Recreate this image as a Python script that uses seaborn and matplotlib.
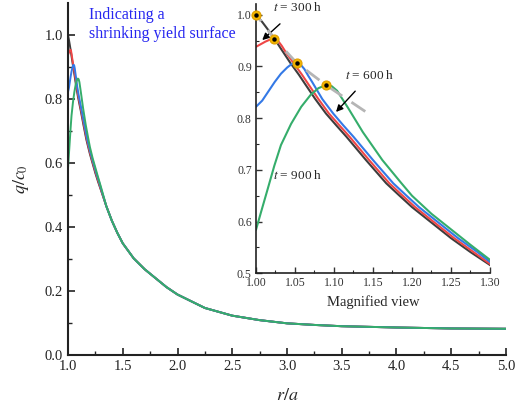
import matplotlib
matplotlib.use("Agg")
import matplotlib.pyplot as plt
import seaborn as sns
import pandas as pd

# ---- data ----
black_r = [1.0, 1.008, 1.016, 1.0235, 1.033, 1.044, 1.055, 1.063, 1.076, 1.0897, 1.103, 1.116, 1.141, 1.167, 1.183, 1.2, 1.25, 1.275, 1.3]
black_q = [1.0, 0.986, 0.970, 0.954, 0.932, 0.907, 0.884, 0.866, 0.837, 0.809, 0.786, 0.764, 0.719, 0.674, 0.6515, 0.628, 0.568, 0.541, 0.516]

red_r = [1.0, 1.006, 1.012, 1.018, 1.0235, 1.028, 1.033, 1.038, 1.048, 1.059, 1.067, 1.08, 1.0935, 1.107, 1.12, 1.145, 1.171, 1.187, 1.204, 1.254, 1.279, 1.3]
red_q = [0.938, 0.943, 0.948, 0.952, 0.954, 0.950, 0.940, 0.928, 0.907, 0.884, 0.866, 0.837, 0.809, 0.786, 0.764, 0.719, 0.674, 0.6515, 0.628, 0.568, 0.541, 0.518]

blue_r = [1.0, 1.008, 1.016, 1.024, 1.032, 1.04, 1.046, 1.052, 1.057, 1.062, 1.067, 1.072, 1.085, 1.099, 1.112, 1.125, 1.15, 1.176, 1.192, 1.209, 1.259, 1.284, 1.3]
blue_q = [0.822, 0.834, 0.852, 0.870, 0.886, 0.898, 0.905, 0.907, 0.904, 0.895, 0.882, 0.870, 0.837, 0.809, 0.786, 0.764, 0.719, 0.674, 0.6515, 0.628, 0.568, 0.541, 0.522]

green_r = [1.0, 1.0064, 1.015, 1.0235, 1.032, 1.045, 1.058, 1.07, 1.08, 1.0897, 1.097, 1.104, 1.118, 1.137, 1.162, 1.186, 1.2, 1.225, 1.25, 1.275, 1.3]
green_q = [0.584, 0.618, 0.663, 0.708, 0.748, 0.789, 0.822, 0.845, 0.858, 0.864, 0.862, 0.853, 0.820, 0.773, 0.719, 0.675, 0.650, 0.615, 0.585, 0.555, 0.526]

tail_r = [1.35, 1.4, 1.45, 1.5, 1.6, 1.7, 1.8, 1.9, 2.0, 2.25, 2.5, 2.75, 3.0, 3.25, 3.5, 4.0, 4.5, 5.0]
tail_q = [0.465, 0.420, 0.382, 0.349, 0.302, 0.268, 0.240, 0.212, 0.189, 0.147, 0.123, 0.109, 0.099, 0.094, 0.090, 0.086, 0.083, 0.082]

yield_r = [0.996, 1.0, 1.0235, 1.052, 1.0897, 1.144]
yield_q = [1.015, 1.0, 0.954, 0.907, 0.864, 0.809]

peak_r = [1.0, 1.0235, 1.052, 1.0897]
peak_q = [1.0, 0.954, 0.907, 0.864]

series_names = ["black", "red", "blue", "green"]
colors = {"black": "#3d3d3d", "red": "#ef4646", "blue": "#3479e6", "green": "#35ad6b"}

frames = []
for name, rr, qq in [("black", black_r, black_q), ("red", red_r, red_q),
                     ("blue", blue_r, blue_q), ("green", green_r, green_q)]:
    frames.append(pd.DataFrame({"r": rr + tail_r, "q": qq + tail_q, "s": name}))
df = pd.concat(frames, ignore_index=True)

sns.set_style("ticks")
plt.rcParams["font.family"] = ["Liberation Serif", "DejaVu Serif"]
plt.rcParams["mathtext.fontset"] = "stix"
plt.rcParams["lines.solid_joinstyle"] = "round"
plt.rcParams["lines.solid_capstyle"] = "round"

fig = plt.figure(figsize=(5.16, 4.09), dpi=100)
ax = fig.add_axes([0.1318, 0.132, 0.8488, 0.8606])
axin = fig.add_axes([0.4961, 0.3318, 0.4535, 0.6574])


def draw(a, lw):
    for name in series_names:
        sub = df[df["s"] == name]
        sns.lineplot(data=sub, x="r", y="q", ax=a, color=colors[name], lw=lw,
                     sort=False, estimator=None, legend=False)


# main axes
draw(ax, 1.4)
ax.set_xlim(1.0, 5.0)
ax.set_ylim(0.0, 1.1)
ax.set_xticks([1.0, 1.5, 2.0, 2.5, 3.0, 3.5, 4.0, 4.5, 5.0])
ax.set_xticks([1.25, 1.75, 2.25, 2.75, 3.25, 3.75, 4.25, 4.75], minor=True)
ax.set_yticks([0.0, 0.2, 0.4, 0.6, 0.8, 1.0])
ax.set_yticks([0.1, 0.3, 0.5, 0.7, 0.9], minor=True)
ax.set_xticklabels(["1.0", "1.5", "2.0", "2.5", "3.0", "3.5", "4.0", "4.5", "5.0"])
ax.set_yticklabels(["0.0", "0.2", "0.4", "0.6", "0.8", "1.0"])
ax.tick_params(which="major", direction="in", length=5, width=1.2, labelsize=10.5, colors="#222222")
ax.tick_params(which="minor", direction="in", length=3, width=1.0)
ax.set_xlabel(r"$r/a$", fontsize=13, labelpad=10)
ax.set_ylabel(r"$q/c_0$", fontsize=13, labelpad=10)
for side in ["top", "right"]:
    ax.spines[side].set_visible(False)
for side in ["left", "bottom"]:
    ax.spines[side].set_linewidth(1.5)
    ax.spines[side].set_color("#222222")
ax.text(1.19, 1.087, "Indicating a\nshrinking yield surface", color="#2626f0",
        fontsize=11.5, ha="left", va="top", linespacing=1.25)

# inset
axin.patch.set_alpha(0.0)
draw(axin, 1.5)
axin.plot(yield_r, yield_q, color="#b5b5b5", lw=2.0, dashes=(6, 4), zorder=5)
axin.plot(peak_r, peak_q, linestyle="none", marker="o", ms=6.5, mfc="#f2b400",
          mec="#e0a000", mew=0.8, zorder=6, clip_on=False)
axin.plot(peak_r, peak_q, linestyle="none", marker="o", ms=2.2, mfc="black",
          mec="black", zorder=7, clip_on=False)
axin.set_xlim(1.0, 1.3)
axin.set_ylim(0.5, 1.02)
axin.set_xticks([1.0, 1.05, 1.1, 1.15, 1.2, 1.25, 1.3])
axin.set_xticklabels(["1.00", "1.05", "1.10", "1.15", "1.20", "1.25", "1.30"])
axin.set_xticks([1.025, 1.075, 1.125, 1.175, 1.225, 1.275], minor=True)
axin.set_yticks([0.5, 0.6, 0.7, 0.8, 0.9, 1.0])
axin.set_yticklabels(["0.5", "0.6", "0.7", "0.8", "0.9", "1.0"])
axin.set_yticks([0.55, 0.65, 0.75, 0.85, 0.95], minor=True)
axin.tick_params(which="major", direction="in", length=4, width=1.0, labelsize=8.5,
                 colors="#333333", pad=3)
axin.tick_params(which="minor", direction="in", length=2, width=0.8)
axin.set_xlabel("Magnified view", fontsize=10.5, labelpad=4)
axin.set_ylabel("")
for side in ["top", "right"]:
    axin.spines[side].set_visible(False)
for side in ["left", "bottom"]:
    axin.spines[side].set_linewidth(1.2)
    axin.spines[side].set_color("#222222")

axin.annotate(r"$t$ = 300 h", xy=(1.008, 0.951), xytext=(1.022, 1.014),
              fontsize=9.5, ha="left", va="center", annotation_clip=False,
              arrowprops=dict(arrowstyle="-|>", color="black", lw=1.0,
                              mutation_scale=10, shrinkA=7, shrinkB=0))
axin.annotate(r"$t$ = 600 h", xy=(1.1026, 0.812), xytext=(1.146, 0.883),
              fontsize=9.5, ha="center", va="center",
              arrowprops=dict(arrowstyle="-|>", color="black", lw=1.0,
                              mutation_scale=10, shrinkA=6, shrinkB=0))
axin.text(1.053, 0.69, r"$t$ = 900 h", fontsize=9.5, ha="center", va="center")

fig.savefig("out.png", dpi=100)
